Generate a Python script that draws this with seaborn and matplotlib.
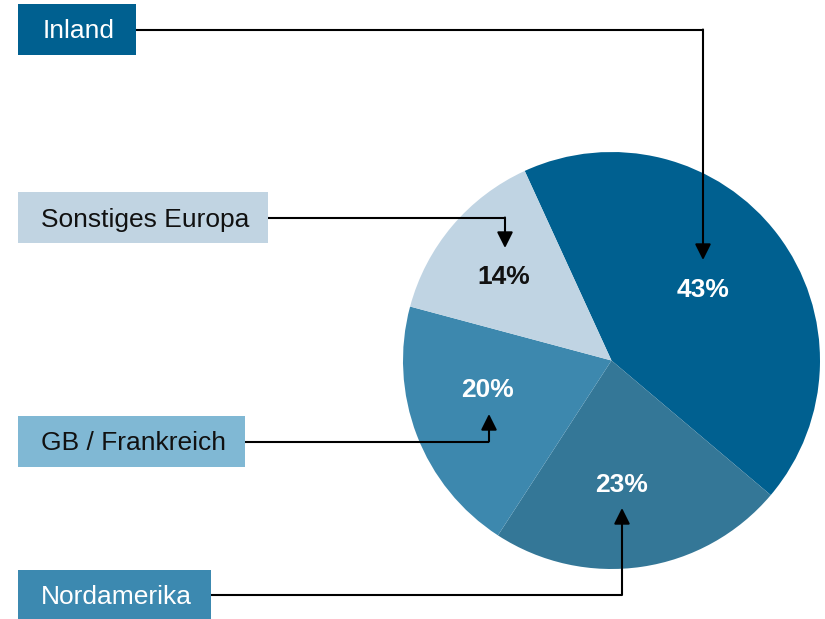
import matplotlib
matplotlib.use("Agg")
import matplotlib.pyplot as plt
import matplotlib.patches as mpatches
import seaborn as sns

# ------------------------------
# Data
# ------------------------------
regions = ["Inland", "Nordamerika", "GB / Frankreich", "Sonstiges Europa"]
shares = [43, 23, 20, 14]
pct_labels = ["43%", "23%", "20%", "14%"]

slice_colors = ["#006090", "#347797", "#3d88ae", "#c0d4e3"]
box_colors = ["#006090", "#3c89b0", "#80b8d4", "#c1d4e2"]
box_text_colors = ["white", "white", "#111111", "#111111"]
pct_text_colors = ["white", "white", "white", "#111111"]

# layout (pixel coords, y from top)
W, H = 825, 619
center = (611.5, 360.5)
radius = 208.5
# box: (x0, y0, x1, y1)
boxes = [(18, 4, 136, 55), (18, 570, 211, 620), (18, 416, 245, 467), (18, 192, 268, 243)]
pct_pos = [(703, 290), (622, 485), (488, 390), (504, 277)]
arrow_x = [703, 622, 489, 505]
arrow_tip_y = [260, 508, 414, 248]


def fy(y):
    return H - y


def main():
    sns.set_style("white")
    plt.rcParams['font.family'] = ['Liberation Sans', 'DejaVu Sans']

    fig = plt.figure(figsize=(W / 100, H / 100), dpi=100)
    ax = fig.add_axes([0, 0, 1, 1])

    # pie, clockwise starting at upper left boundary
    ax.pie(shares, colors=slice_colors, startangle=114.6, counterclock=False,
           center=(center[0], fy(center[1])), radius=radius,
           wedgeprops=dict(linewidth=0), frame=True)
    ax.set_xlim(0, W)
    ax.set_ylim(0, H)
    ax.set_aspect("equal")
    ax.axis("off")

    for i, name in enumerate(regions):
        x0, y0, x1, y1 = boxes[i]
        ax.add_patch(mpatches.Rectangle((x0, fy(y1)), x1 - x0, y1 - y0,
                                        facecolor=box_colors[i], edgecolor="none",
                                        zorder=3))
        ax.text((x0 + x1) / 2 + 2, fy((y0 + y1) / 2 + 2), name, ha="center", va="center",
                fontsize=19, color=box_text_colors[i], zorder=4)

        # connector: horizontal then vertical arrow
        ymid = (y0 + y1) / 2
        ax.plot([x1, arrow_x[i]], [fy(ymid), fy(ymid)], color="black", lw=1.5,
                solid_capstyle="butt", zorder=2)
        ax.annotate("", xy=(arrow_x[i], fy(arrow_tip_y[i])),
                    xytext=(arrow_x[i], fy(ymid)),
                    arrowprops=dict(arrowstyle="-|>", color="black", lw=1.5,
                                    mutation_scale=24, shrinkA=0, shrinkB=0),
                    zorder=5)

        px, py = pct_pos[i]
        ax.text(px, fy(py), pct_labels[i], ha="center", va="center",
                fontsize=19, fontweight="bold", color=pct_text_colors[i], zorder=4)

    fig.savefig("out.png", dpi=100)


if __name__ == "__main__":
    main()
